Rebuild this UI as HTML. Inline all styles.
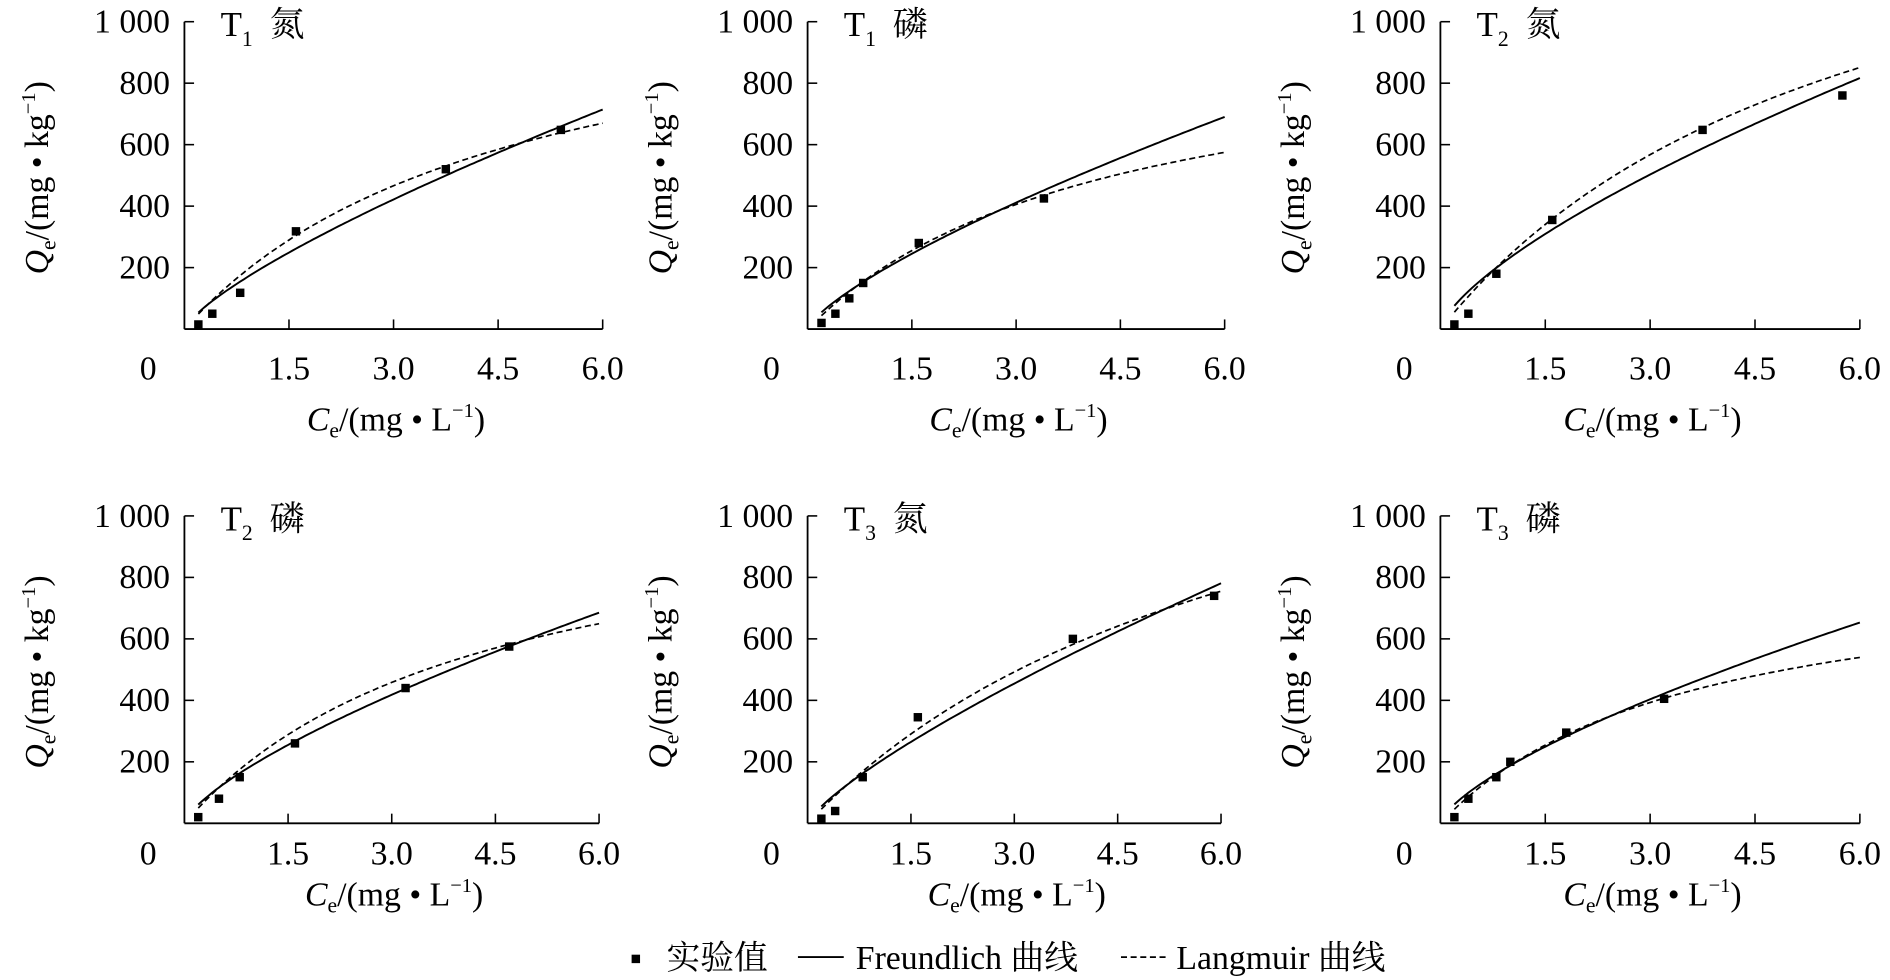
<!DOCTYPE html>
<html><head><meta charset="utf-8"><style>
html,body{margin:0;padding:0;background:#fff;}
svg{display:block;}
text{font-family:"Liberation Serif","Noto Serif CJK SC","Noto Sans CJK SC",serif;fill:#000;}
</style></head><body>
<svg id="s" width="1890" height="980" viewBox="0 0 1568 813" preserveAspectRatio="none" xmlns="http://www.w3.org/2000/svg"></svg>
<script>
const s=document.getElementById('s');
let h='';
const panels=[
 {x0:153,x1:500,y0:273,yt:18,ttl:['1','氮'],pts:[[0.2,15],[0.4,50],[0.8,118],[1.6,318],[3.75,520],[5.4,648]],F:[183,0.76],L:[1189,0.215]},
 {x0:670,x1:1016,y0:273,yt:18,ttl:['1','磷'],pts:[[0.2,20],[0.4,50],[0.6,100],[0.8,150],[1.6,280],[3.4,425]],F:[181,0.747],L:[986,0.233]},
 {x0:1195,x1:1543,y0:273,yt:18,ttl:['2','氮'],pts:[[0.2,15],[0.4,50],[0.8,180],[1.6,355],[3.75,648],[5.75,760]],F:[233,0.70],L:[1700,0.167]},
 {x0:153,x1:497,y0:683,yt:428,ttl:['2','磷'],pts:[[0.2,20],[0.5,80],[0.8,150],[1.6,260],[3.2,440],[4.7,575]],F:[191,0.713],L:[1114,0.233]},
 {x0:670,x1:1013,y0:683,yt:428,ttl:['3','氮'],pts:[[0.2,15],[0.4,40],[0.8,150],[1.6,345],[3.85,600],[5.9,740]],F:[193,0.78],L:[1617,0.146]},
 {x0:1195,x1:1543,y0:683,yt:428,ttl:['3','磷'],pts:[[0.2,20],[0.4,80],[0.8,150],[1.0,200],[1.8,295],[3.2,405]],F:[188,0.695],L:[861,0.28]},
];
panels.forEach((p,i)=>{
 const X=c=>p.x0+(p.x1-p.x0)*c/6, Y=q=>p.y0-(p.y0-p.yt)*q/1000;
 h+=`<line x1="${p.x0}" y1="${p.yt}" x2="${p.x0}" y2="${p.y0}" stroke="#000" stroke-width="1.5"/>`;
 h+=`<line x1="${p.x0}" y1="${p.y0}" x2="${p.x1}" y2="${p.y0}" stroke="#000" stroke-width="1.5"/>`;
 for(let k=1;k<=5;k++){const y=Y(k*200);h+=`<line x1="${p.x0}" y1="${y}" x2="${p.x0+8}" y2="${y}" stroke="#000" stroke-width="1.3"/>`;
  h+=`<text x="${p.x0-12}" y="${y+9}" font-size="28" text-anchor="end">${k==5?'1 000':k*200}</text>`;}
 const tly=p.y0+(i<3?42:34);
 h+=`<text x="${p.x0-30}" y="${tly}" font-size="28" text-anchor="middle">0</text>`;
 ['1.5','3.0','4.5','6.0'].forEach((t,k)=>{const x=X((k+1)*1.5);h+=`<line x1="${x}" y1="${p.y0}" x2="${x}" y2="${p.y0-8}" stroke="#000" stroke-width="1.3"/>`;
  h+=`<text x="${x}" y="${tly}" font-size="28" text-anchor="middle">${t}</text>`;});
 const cx=(p.x0+p.x1)/2+2, ty=p.y0+(i<3?84:68);
 h+=`<text x="${cx}" y="${ty}" font-size="28" text-anchor="middle"><tspan font-style="italic">C</tspan><tspan font-size="18" dy="6">e</tspan><tspan dy="-6">/(mg • L</tspan><tspan font-size="17" dy="-11">−1</tspan><tspan dy="11">)</tspan></text>`;
 const ly=(p.yt+p.y0)/2+2, lx=p.x0-113;
 h+=`<text transform="translate(${lx},${ly}) rotate(-90)" font-size="28" text-anchor="middle"><tspan font-style="italic">Q</tspan><tspan font-size="18" dy="6">e</tspan><tspan dy="-6">/(mg • kg</tspan><tspan font-size="17" dy="-11">−1</tspan><tspan dy="11">)</tspan></text>`;
 h+=`<text x="${p.x0+30}" y="${p.yt+12}" font-size="29">T<tspan font-size="18" dy="8">${p.ttl[0]}</tspan><tspan dy="-8" dx="14">${p.ttl[1]}</tspan></text>`;
 let f='',l='';
 for(let c=0.2;c<=6.0001;c+=0.05){const q1=p.F[0]*Math.pow(c,p.F[1]);const q2=p.L[0]*p.L[1]*c/(1+p.L[1]*c);
  f+=(f?'L':'M')+X(c).toFixed(1)+','+Y(q1).toFixed(1);l+=(l?'L':'M')+X(c).toFixed(1)+','+Y(q2).toFixed(1);}
 h+=`<path d="${f}" fill="none" stroke="#000" stroke-width="1.6"/>`;
 h+=`<path d="${l}" fill="none" stroke="#000" stroke-width="1.4" stroke-dasharray="5,3"/>`;
 p.pts.forEach(([c,q])=>{h+=`<rect x="${X(c)-3.5}" y="${Y(q)-3.5}" width="7" height="7" fill="#000"/>`;});
});
h+=`<rect x="524" y="792" width="7" height="7" fill="#000"/>`;
h+=`<text x="553" y="804" font-size="28">实验值</text>`;
h+=`<line x1="662" y1="794" x2="700" y2="794" stroke="#000" stroke-width="1.6"/>`;
h+=`<text x="710" y="804" font-size="28">Freundlich 曲线</text>`;
h+=`<line x1="930" y1="794" x2="968" y2="794" stroke="#000" stroke-width="1.4" stroke-dasharray="5,3"/>`;
h+=`<text x="976" y="804" font-size="28">Langmuir 曲线</text>`;
s.innerHTML=h;
</script>
</body></html>
